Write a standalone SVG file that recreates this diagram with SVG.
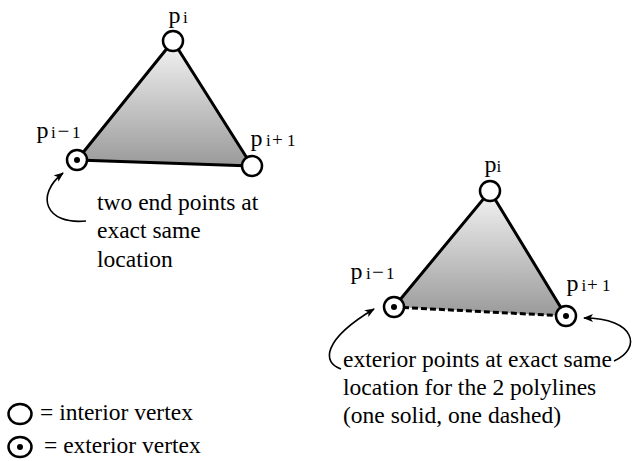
<svg xmlns="http://www.w3.org/2000/svg" width="642" height="461" viewBox="0 0 642 461">
  <style>
    .tri { stroke: #000; stroke-width: 3; stroke-linejoin: round; }
    .edge { fill: none; stroke: #000; stroke-width: 3; stroke-linecap: round; }
    .dash { fill: none; stroke: #000; stroke-width: 3; stroke-dasharray: 6 3; }
    .vtx { fill: #fff; stroke: #000; stroke-width: 2.5; }
    .dot { fill: #000; }
    .lbl { font-size: 24px; }
    .sub { font-size: 17px; }
    .txt { font-size: 23.5px; }
    .arrow { fill: none; stroke: #000; stroke-width: 1.6; marker-end: url(#head); }
  </style>
  <defs>
    <linearGradient id="shade" x1="0" y1="0" x2="0" y2="1">
      <stop offset="0" stop-color="#f4f4f4"/>
      <stop offset="1" stop-color="#9a9a9a"/>
    </linearGradient>
    <marker id="head" markerWidth="10" markerHeight="8" refX="9" refY="4" orient="auto" markerUnits="userSpaceOnUse">
      <path d="M0,0 L10,4 L0,8 L2.5,4 Z" fill="#000"/>
    </marker>
  </defs>

  <g font-family="'Liberation Serif', 'DejaVu Serif', serif" fill="#000">
    <!-- left triangle: all edges solid -->
    <g id="triangle-left">
      <polygon points="173,41 77,160 252,166" fill="url(#shade)" class="tri"/>
    </g>
    <g id="p-i-left">
      <circle cx="173" cy="41" r="10" class="vtx"/>
      <text class="lbl" x="168.5" y="23">p<tspan class="sub" x="183">i</tspan></text>
    </g>
    <g id="p-im1-left">
      <circle cx="77" cy="160" r="10" class="vtx"/>
      <circle cx="77" cy="160" r="3" class="dot"/>
      <text class="lbl" x="36.5" y="138">p<tspan class="sub" x="51">i</tspan><tspan x="57.5" font-size="21">−</tspan><tspan class="sub" x="72">1</tspan></text>
    </g>
    <g id="p-ip1-left">
      <circle cx="252" cy="166" r="10" class="vtx"/>
      <text class="lbl" x="250.5" y="146">p<tspan class="sub" x="266">i</tspan><tspan x="272" font-size="19">+</tspan><tspan class="sub" x="287">1</tspan></text>
    </g>

    <!-- right triangle: bottom edge dashed -->
    <g id="triangle-right">
      <polygon points="490,191 394,307 566,316" fill="url(#shade)" stroke="none"/>
      <polyline points="394,307 490,191 566,316" class="edge"/>
      <line x1="394" y1="307" x2="566" y2="316" class="dash"/>
    </g>
    <g id="p-i-right">
      <circle cx="490" cy="191" r="10" class="vtx"/>
      <text class="lbl" x="484.5" y="172">p<tspan class="sub" x="496.5">i</tspan></text>
    </g>
    <g id="p-im1-right">
      <circle cx="394" cy="307" r="10" class="vtx"/>
      <circle cx="394" cy="307" r="3" class="dot"/>
      <text class="lbl" x="350.5" y="279">p<tspan class="sub" x="366">i</tspan><tspan x="372" font-size="21">−</tspan><tspan class="sub" x="386">1</tspan></text>
    </g>
    <g id="p-ip1-right">
      <circle cx="566" cy="316" r="10" class="vtx"/>
      <circle cx="566" cy="316" r="3" class="dot"/>
      <text class="lbl" x="566.5" y="291">p<tspan class="sub" x="581.5">i</tspan><tspan x="587" font-size="19">+</tspan><tspan class="sub" x="602">1</tspan></text>
    </g>

    <!-- annotations -->
    <g id="note-left">
      <text class="txt" x="97" y="210">two end points at</text>
      <text class="txt" x="97" y="238">exact same</text>
      <text class="txt" x="97" y="267">location</text>
    </g>
    <g id="note-right">
      <text class="txt" x="343" y="367">exterior points at exact same</text>
      <text class="txt" x="343" y="395">location for the 2 polylines</text>
      <text class="txt" x="343" y="423">(one solid, one dashed)</text>
    </g>

    <!-- legend -->
    <g id="legend">
      <ellipse cx="20" cy="414" rx="11.5" ry="10" class="vtx"/>
      <text class="txt" x="40" y="420">= interior vertex</text>
      <ellipse cx="20" cy="447" rx="11.5" ry="10" class="vtx"/>
      <circle cx="20" cy="447" r="3" class="dot"/>
      <text class="txt" x="44" y="453">= exterior vertex</text>
    </g>
  </g>

  <!-- pointer arrows -->
  <g id="connectors">
    <path class="arrow" d="M86,221 C45,225 35,195 63,173"/>
    <path class="arrow" d="M341,369 C322,363 322,340 374,309"/>
    <path class="arrow" d="M614,361 C642,349 636,318 584,318"/>
  </g>
</svg>
